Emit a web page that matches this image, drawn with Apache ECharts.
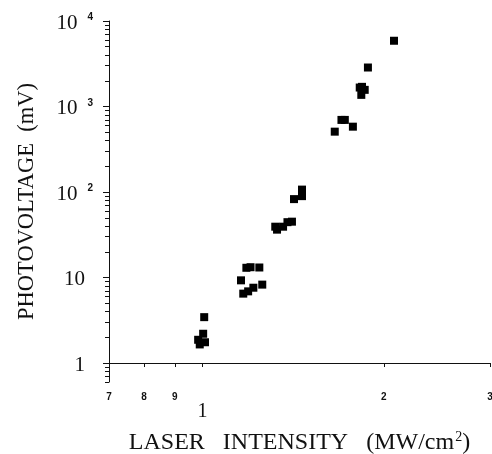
<!DOCTYPE html>
<html>
<head>
<meta charset="utf-8">
<script src="https://cdn.jsdelivr.net/npm/echarts@6/dist/echarts.min.js"></script>
<style>html,body{margin:0;padding:0;background:#fff}#c{width:492px;height:454px}</style>
</head>
<body>
<div id="c"></div>
<script>
// Data (laser intensity in MW/cm^2, photovoltage in mV)
const intensity = [0.984, 0.990, 1.003, 1.010, 1.007,
  1.159, 1.183, 1.202, 1.243, 1.169, 1.191, 1.215, 1.257,
  1.321, 1.330, 1.361, 1.384, 1.408,
  1.419, 1.463, 1.463,
  1.658, 1.701, 1.723, 1.777, 1.824, 1.859, 1.835, 1.840, 1.882, 2.079];
const photovoltage = [1.87, 1.65, 2.2, 1.75, 3.44,
  9.27, 13.0, 13.2, 13.1, 6.48, 6.89, 7.6, 8.26,
  39.3, 36.3, 39.3, 44.4, 45.0,
  82.6, 106.7, 89.5,
  508, 697, 697, 581, 1667, 1566, 1368, 1698, 2858, 5875];

// Axis ticks and labels
const xTickValues = [0.7, 0.8, 0.9, 1, 2, 3];
const xTickLabels = ['7', '8', '9', '1', '2', '3'];
const yMajorTicks = [1, 10, 100, 1000, 10000];
const yMajorBase = ['1', '10', '10', '10', '10'];
const yMajorExp = ['', '', '2', '3', '4'];
const yMinorTicks = [0.6, 0.7, 0.8, 0.9,
  2, 3, 4, 5, 6, 7, 8, 9,
  20, 30, 40, 50, 60, 70, 80, 90,
  200, 300, 400, 500, 600, 700, 800, 900,
  2000, 3000, 4000, 5000, 6000, 7000, 8000, 9000];
const xRange = [0.7, 3];
const yRange = [0.6, 10000];
const xTitle = 'LASER   INTENSITY   (MW/cm{sup|2})';
const yTitle = 'PHOTOVOLTAGE  (mV)';

const L = Math.log10;
function nearestIdx(arr, v) {
  let best = 0, d = Infinity;
  arr.forEach((a, i) => { const dd = Math.abs(L(a) - v); if (dd < d) { d = dd; best = i; } });
  return best;
}
const serif = 'Liberation Serif';
const ink = '#111';

const chart = echarts.init(document.getElementById('c'), null, {renderer: 'canvas'});
chart.setOption({
  animation: false,
  backgroundColor: '#fff',
  grid: {left: 109, right: 2, top: 21, bottom: 72, containLabel: false, outerBoundsMode: 'none'},
  xAxis: [
    {type: 'log', logBase: 10, min: xRange[0], max: xRange[1], show: false},
    {
      type: 'value', min: L(xRange[0]), max: L(xRange[1]), position: 'bottom',
      axisLine: {show: true, lineStyle: {color: ink, width: 1}},
      axisTick: {show: true, inside: false, length: 4, customValues: xTickValues.map(L), lineStyle: {color: ink}},
      splitLine: {show: false},
      axisLabel: {
        customValues: xTickValues.map(L), margin: 10,
        formatter: v => {
          const i = nearestIdx(xTickValues, v);
          return xTickLabels[i] === '1' ? '{b|1}' : '{s|' + xTickLabels[i] + '}';
        },
        rich: {
          s: {fontFamily: 'Liberation Sans', fontWeight: 'bold', fontSize: 10, color: ink},
          b: {fontFamily: serif, fontSize: 20, color: ink, padding: [10, 0, 0, 0]}
        }
      },
      name: xTitle, nameLocation: 'middle', nameGap: 48,
      nameTextStyle: {fontFamily: serif, fontSize: 24, color: ink,
        rich: {sup: {fontFamily: serif, fontSize: 14, color: ink, padding: [0, 0, 12, 1]}}}
    }
  ],
  yAxis: [
    {type: 'log', logBase: 10, min: yRange[0], max: yRange[1], show: false},
    {
      type: 'value', min: L(yRange[0]), max: L(yRange[1]), position: 'left',
      axisLine: {show: true, lineStyle: {color: ink, width: 1}},
      axisTick: {show: true, inside: false, length: 6, customValues: yMajorTicks.map(L), lineStyle: {color: ink}},
      splitLine: {show: false},
      axisLabel: {
        customValues: yMajorTicks.map(L), margin: 16, align: 'right',
        formatter: v => {
          const i = nearestIdx(yMajorTicks, v);
          return yMajorExp[i] ? '{m|' + yMajorBase[i] + '}{s|' + yMajorExp[i] + '}' : '{mp|' + yMajorBase[i] + '}';
        },
        rich: {
          m: {fontFamily: serif, fontSize: 21, color: ink, padding: [4, 0, 0, 0]},
          mp: {fontFamily: serif, fontSize: 21, color: ink, padding: [4, 8, 0, 0]},
          s: {fontFamily: 'Liberation Sans', fontWeight: 'bold', fontSize: 10, color: ink, padding: [0, 0, 7, 10]}
        }
      },
      name: yTitle, nameLocation: 'middle', nameGap: 70, nameRotate: 90,
      nameTextStyle: {fontFamily: serif, fontSize: 22.5, color: ink}
    },
    {
      type: 'value', min: L(yRange[0]), max: L(yRange[1]), position: 'left',
      axisLine: {show: false},
      axisTick: {show: true, inside: false, length: 4, customValues: yMinorTicks.map(L), lineStyle: {color: ink}},
      splitLine: {show: false},
      axisLabel: {show: false}
    }
  ],
  series: [{
    type: 'scatter', xAxisIndex: 0, yAxisIndex: 0,
    symbol: 'rect', symbolSize: 8,
    itemStyle: {color: '#000', opacity: 1},
    data: intensity.map((x, i) => [x, photovoltage[i]])
  }]
});
</script>
</body>
</html>
